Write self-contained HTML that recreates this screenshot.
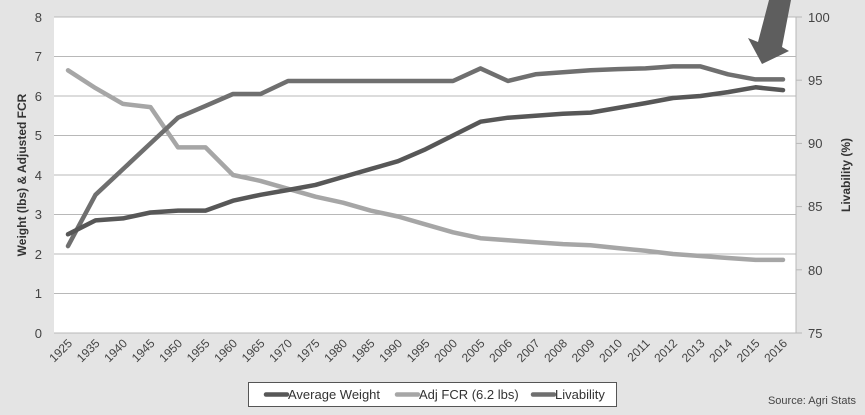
<!DOCTYPE html>
<html><head><meta charset="utf-8"><style>
html,body{margin:0;padding:0;background:#e4e4e4;}
svg{display:block;font-family:"Liberation Sans",sans-serif;}
</style></head><body>
<svg width="865" height="415" viewBox="0 0 865 415" xmlns="http://www.w3.org/2000/svg">
<rect x="0" y="0" width="865" height="415" fill="#e4e4e4"/>
<rect x="54" y="17" width="742" height="316" fill="#ffffff"/>
<g stroke="#b8b8b8" stroke-width="1">
<line x1="54" y1="17" x2="796" y2="17"/><line x1="54" y1="56.5" x2="796" y2="56.5"/>
<line x1="54" y1="96" x2="796" y2="96"/><line x1="54" y1="135.5" x2="796" y2="135.5"/>
<line x1="54" y1="175" x2="796" y2="175"/><line x1="54" y1="214.5" x2="796" y2="214.5"/>
<line x1="54" y1="254" x2="796" y2="254"/><line x1="54" y1="293.5" x2="796" y2="293.5"/>
<line x1="54" y1="333" x2="796" y2="333"/>
<line x1="796" y1="17" x2="796" y2="333"/>
<line x1="796" y1="17" x2="802" y2="17"/><line x1="796" y1="80.2" x2="802" y2="80.2"/><line x1="796" y1="143.4" x2="802" y2="143.4"/><line x1="796" y1="206.6" x2="802" y2="206.6"/><line x1="796" y1="269.8" x2="802" y2="269.8"/><line x1="796" y1="333" x2="802" y2="333"/>
</g>
<g fill="#444" font-size="13" text-anchor="end">
<text x="42" y="22">8</text><text x="42" y="61">7</text><text x="42" y="101">6</text><text x="42" y="140">5</text><text x="42" y="180">4</text><text x="42" y="219">3</text><text x="42" y="259">2</text><text x="42" y="298">1</text><text x="42" y="338">0</text>
</g>
<g fill="#444" font-size="13">
<text x="808" y="22">100</text><text x="808" y="85">95</text><text x="808" y="148">90</text><text x="808" y="211">85</text><text x="808" y="275">80</text><text x="808" y="338">75</text>
</g>
<text transform="translate(26,175) rotate(-90)" text-anchor="middle" font-size="12" font-weight="bold" fill="#333">Weight (lbs) &amp; Adjusted FCR</text>
<text transform="translate(850,175) rotate(-90)" text-anchor="middle" font-size="12" font-weight="bold" fill="#333">Livability (%)</text>
<g fill="#444" font-size="12" text-anchor="end">
<text transform="translate(73,344) rotate(-45)">1925</text><text transform="translate(100.5,344) rotate(-45)">1935</text><text transform="translate(128,344) rotate(-45)">1940</text><text transform="translate(155.5,344) rotate(-45)">1945</text><text transform="translate(183,344) rotate(-45)">1950</text><text transform="translate(210.5,344) rotate(-45)">1955</text><text transform="translate(238,344) rotate(-45)">1960</text><text transform="translate(265.5,344) rotate(-45)">1965</text><text transform="translate(293,344) rotate(-45)">1970</text><text transform="translate(320.5,344) rotate(-45)">1975</text><text transform="translate(348,344) rotate(-45)">1980</text><text transform="translate(375.5,344) rotate(-45)">1985</text><text transform="translate(403,344) rotate(-45)">1990</text><text transform="translate(430.5,344) rotate(-45)">1995</text><text transform="translate(458,344) rotate(-45)">2000</text><text transform="translate(485.5,344) rotate(-45)">2005</text><text transform="translate(513,344) rotate(-45)">2006</text><text transform="translate(540.5,344) rotate(-45)">2007</text><text transform="translate(568,344) rotate(-45)">2008</text><text transform="translate(595.5,344) rotate(-45)">2009</text><text transform="translate(623,344) rotate(-45)">2010</text><text transform="translate(650.5,344) rotate(-45)">2011</text><text transform="translate(678,344) rotate(-45)">2012</text><text transform="translate(705.5,344) rotate(-45)">2013</text><text transform="translate(733,344) rotate(-45)">2014</text><text transform="translate(760.5,344) rotate(-45)">2015</text><text transform="translate(788,344) rotate(-45)">2016</text>
</g>
<g fill="none" stroke-width="4.5" stroke-linejoin="round" stroke-linecap="round">
<polyline stroke="#a6a6a6" points="68,70.3 95.5,88.1 123,103.9 150.5,107.1 178,147.4 205.5,147.4 233,175 260.5,180.9 288,188.8 315.5,196.7 343,202.7 370.5,210.6 398,216.5 425.5,224.4 453,232.3 480.5,238.2 508,240.2 535.5,242.2 563,244.1 590.5,245.3 618,248.1 645.5,250.8 673,254 700.5,256 728,258 755.5,259.9 783,259.9"/>
<polyline stroke="#6f6f6f" points="68,246.1 95.5,194.8 123,169.1 150.5,143.4 178,117.7 205.5,105.9 233,94 260.5,94 288,81 315.5,81 343,81 370.5,81 398,81 425.5,81 453,81 480.5,68.4 508,81 535.5,74.3 563,72.3 590.5,70.3 618,69.1 645.5,68.4 673,66.4 700.5,66.4 728,74.3 755.5,79.4 783,79.4"/>
<polyline stroke="#575757" points="68,234.3 95.5,220.4 123,218.4 150.5,212.5 178,210.6 205.5,210.6 233,200.7 260.5,194.8 288,190 315.5,184.9 343,177 370.5,169.1 398,161.2 425.5,149.3 453,135.5 480.5,121.7 508,117.7 535.5,115.8 563,113.8 590.5,112.6 618,107.9 645.5,103.1 673,98 700.5,96 728,92.1 755.5,87.3 783,90.1"/>
</g>
<polygon points="769,0 791,0 782,47 789,51 762,64 748,38 758,42" fill="#5e5e5e"/>
<rect x="248.5" y="382.5" width="368" height="24" fill="#fff" stroke="#555" stroke-width="1"/>
<g stroke-width="4.5" stroke-linecap="round">
<line x1="266" y1="394.5" x2="287" y2="394.5" stroke="#575757"/>
<line x1="397" y1="394.5" x2="418" y2="394.5" stroke="#a6a6a6"/>
<line x1="533" y1="394.5" x2="554" y2="394.5" stroke="#6f6f6f"/>
</g>
<g font-size="13" fill="#333">
<text x="288" y="399">Average Weight</text>
<text x="419" y="399">Adj FCR (6.2 lbs)</text>
<text x="555" y="399">Livability</text>
</g>
<text x="856" y="404" text-anchor="end" font-size="11" fill="#444">Source: Agri Stats</text>
</svg>
</body></html>
